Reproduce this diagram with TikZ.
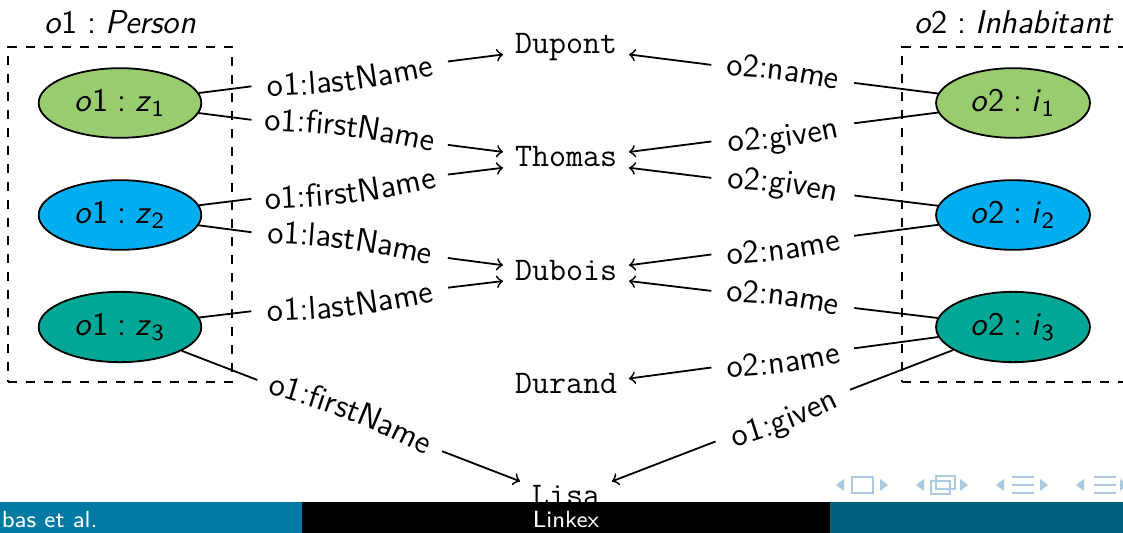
\documentclass[tikz,border=0pt]{standalone}
\usetikzlibrary{shapes.geometric,calc,fit,decorations.text}
\renewcommand{\familydefault}{\sfdefault}

\definecolor{zgreen}{RGB}{152,204,110}
\definecolor{zblue}{RGB}{0,174,239}
\definecolor{zteal}{RGB}{0,166,150}
\definecolor{footleft}{RGB}{0,122,163}
\definecolor{footright}{RGB}{0,94,124}
\definecolor{navgray}{RGB}{172,202,222}

\newcommand{\objlbl}[3]{\textit{o}#1\hspace{.28em}:\hspace{.28em}\textit{#2}\textsubscript{#3}}

\tikzset{
  instnode/.style={ellipse, draw, inner xsep=4pt, minimum height=23pt},
  lit/.style={font=\ttfamily, text height=6.8pt, text depth=2.4pt},
  groupbox/.style={draw, dashed, inner sep=0pt},
  foottext/.style={text=white, font=\fontsize{7.8}{9}\selectfont}
}

\begin{document}
\begin{tikzpicture}[x=0.3333pt, y=0.3333pt, line width=0.6pt]
\fontsize{11}{13}\selectfont
\useasboundingbox (0,0) rectangle (1123,-532);

% the two classes
\node[groupbox, fit={(8,-47) (232,-382)}] (g1) {};
\node[groupbox, fit={(902,-47) (1126,-382)}] (g2) {};
\node[anchor=south] (t1) at (g1.north) {\textit{o}1\hspace{.28em}:\hspace{.28em}\textit{Person}};
\node[anchor=south] (t2) at (g2.north) {\textit{o}2\hspace{.28em}:\hspace{.28em}\textit{Inhabitant}};

% instances
\node[instnode, fill=zgreen] (z1) at (120,-103) {\objlbl{1}{z}{1}};
\node[instnode, fill=zblue]  (z2) at (120,-215) {\objlbl{1}{z}{2}};
\node[instnode, fill=zteal]  (z3) at (120,-327) {\objlbl{1}{z}{3}};
\node[instnode, fill=zgreen] (i1) at (1013,-103) {\objlbl{2}{i}{1}};
\node[instnode, fill=zblue]  (i2) at (1013,-215) {\objlbl{2}{i}{2}};
\node[instnode, fill=zteal]  (i3) at (1013,-327) {\objlbl{2}{i}{3}};

% literals
\node[lit] (dupont) at (566,-46.5) {Dupont};
\node[lit] (thomas) at (566,-160) {Thomas};
\node[lit] (dubois) at (566,-273.5) {Dubois};
\node[lit] (durand) at (566,-387) {Durand};
\node[lit] (lisa)   at (566,-499) {Lisa};

% properties of o1
\foreach \s/\t/\lbl/\bd in {z1/dupont/o1:lastName/-6, z1/thomas/o1:firstName/6,%
            z2/thomas/o1:firstName/-6, z2/dubois/o1:lastName/6,%
            z3/dubois/o1:lastName/-6, z3/lisa/o1:firstName/6%
            }{
  \coordinate (m) at ($(\s)!0.515!(\t)$);
  \coordinate (p) at ($(m)!33pt!(\s)$);
  \coordinate (q) at ($(m)!33pt!(\t)$);
  \draw (\s) -- (p);
  \draw[->] (q) -- (\t);
  \path[decorate, decoration={text along path, text/.expanded=\lbl, text align=center, raise=-3.5pt}]
    (p) to[bend left=\bd] (q);
}

% properties of o2
\foreach \s/\t/\lbl/\bd in {i1/dupont/o2:name/6, i1/thomas/o2:given/-6,%
            i2/thomas/o2:given/6, i2/dubois/o2:name/-6,%
            i3/dubois/o2:name/6, i3/durand/o2:name/-6, i3/lisa/o1:given/-6%
            }{
  \coordinate (m) at ($(\s)!0.515!(\t)$);
  \coordinate (p) at ($(m)!24pt!(\t)$);
  \coordinate (q) at ($(m)!24pt!(\s)$);
  \draw (\s) -- (q);
  \draw[->] (p) -- (\t);
  \path[decorate, decoration={text along path, text/.expanded=\lbl, text align=center, raise=-3.5pt}]
    (p) to[bend left=\bd] (q);
}

% navigation symbols
\foreach \x in {836,916,996,1076}{
  \fill[navgray] (\x,-485) -- ++(8,6) -- ++(0,-12) -- cycle;
  \fill[navgray] (\x+52,-485) -- ++(-8,6) -- ++(0,-12) -- cycle;
}
\draw[navgray] (852,-477) rectangle (873,-493);
\draw[navgray] (931,-481) rectangle (950,-494);
\draw[navgray] (936,-476) rectangle (955,-489);
\foreach \x in {1012,1094}
  \foreach \y in {-477,-485,-493}
    \draw[navgray] (\x,\y) -- ++(22,0);

% footline
\fill[footleft] (-10,-502) rectangle (302,-540);
\fill[black] (302,-502) rectangle (830,-540);
\fill[footright] (830,-502) rectangle (1135,-540);
\node[foottext, anchor=base west, inner sep=0pt] (au) at (1,-527) {bas et al.};
\node[foottext, anchor=base] (ti) at (566,-527) {Linkex};
\end{tikzpicture}
\end{document}
